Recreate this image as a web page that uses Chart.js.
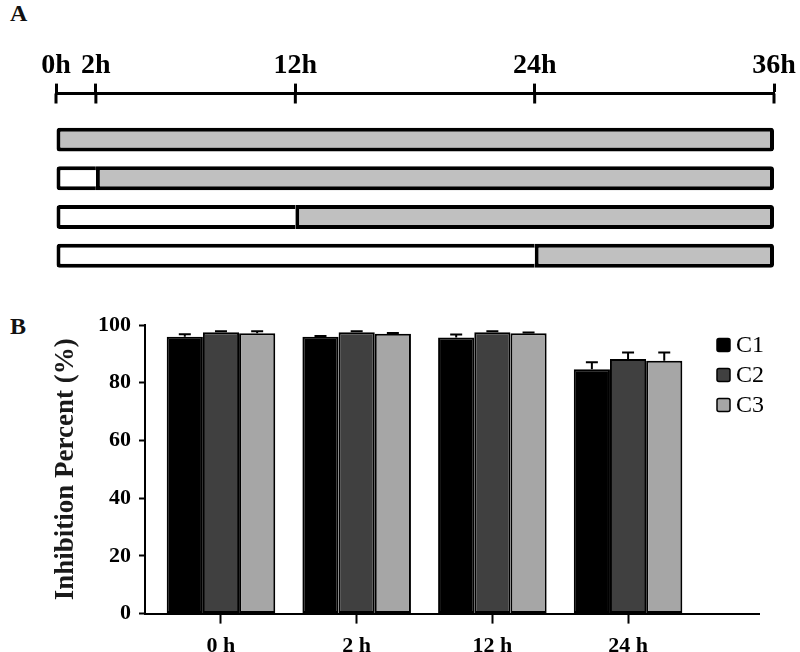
<!DOCTYPE html>
<html>
<head>
<meta charset="utf-8">
<script src="https://cdn.jsdelivr.net/npm/chart.js@4.4.1/dist/chart.umd.min.js"></script>
<style>
  html, body { margin: 0; padding: 0; background: #fff; overflow: hidden; }
  body { width: 800px; height: 652px; position: relative; }
  .panel-label {
    position: absolute;
    left: 10px;
    font: bold 24px "Liberation Serif", "Times New Roman", serif;
    line-height: 1;
    color: #111;
  }
  #timelineChart { position: absolute; left: 0; top: 0; }
  #inhibitionChart { position: absolute; left: 0; top: 290px; }
</style>
</head>
<body>
<div class="panel-label" style="top:1px">A</div>
<div class="panel-label" style="top:314px">B</div>
<canvas id="timelineChart" width="800" height="290"></canvas>
<canvas id="inhibitionChart" width="800" height="380"></canvas>
<script>
// panel A: treatment timeline
const timePoints = [0, 2, 12, 24, 36];
const timeLabels = ["0h", "2h", "12h", "24h", "36h"];
const rowStarts = [0, 2, 12, 24]; // hour at which each row switches to grey
const endHour = 36;

// panel B: inhibition percent
const categories = ["0 h", "2 h", "12 h", "24 h"];
const c1Values = [95.9, 95.9, 95.7, 84.7];
const c1Errors = [0.9, 0.3, 1.0, 2.4];
const c2Values = [97.5, 97.5, 97.5, 88.2];
const c2Errors = [0.3, 0.3, 0.3, 2.3];
const c3Values = [97.1, 97.0, 97.1, 87.6];
const c3Errors = [0.7, 0.2, 0.3, 2.9];

const serif = '"Liberation Serif", "Times New Roman", serif';
Chart.defaults.font.family = serif;

const beforeData = rowStarts
  .map((s, i) => (s > 0 ? { x: [0, s], y: i } : null))
  .filter(Boolean);
const afterData = rowStarts.map((s, i) => ({ x: [s, endHour], y: i }));

// tick marks under the timeline line (chart.js only draws the upper half)
const lowerTicks = {
  id: "lowerTicks",
  afterDraw(chart) {
    const ctx = chart.ctx;
    const sx = chart.scales.x;
    const top = chart.chartArea.top;
    ctx.save();
    ctx.strokeStyle = "#000";
    ctx.lineWidth = 3;
    ctx.beginPath();
    for (const v of timePoints) {
      const px = sx.getPixelForValue(v);
      ctx.moveTo(px, top);
      ctx.lineTo(px, top + 10);
    }
    ctx.stroke();
    ctx.restore();
  },
};

new Chart(document.getElementById("timelineChart"), {
  type: "bar",
  data: {
    datasets: [
      {
        label: "before",
        data: beforeData,
        backgroundColor: "#ffffff",
        borderColor: "#000000",
        borderWidth: 4,
        borderSkipped: "right",
        borderRadius: { topLeft: 3, bottomLeft: 3, topRight: 0, bottomRight: 0 },
      },
      {
        label: "after",
        data: afterData,
        backgroundColor: "#c0c0c0",
        borderColor: "#000000",
        borderWidth: 4,
        borderSkipped: false,
        borderRadius: (ctx) =>
          rowStarts[ctx.dataIndex] > 0
            ? { topLeft: 0, bottomLeft: 0, topRight: 3, bottomRight: 3 }
            : 3,
      },
    ],
  },
  options: {
    indexAxis: "y",
    responsive: false,
    animation: false,
    layout: { padding: { left: 56, right: 26, top: 48, bottom: 15 } },
    plugins: { legend: { display: false }, tooltip: { enabled: false } },
    datasets: { bar: { grouped: false, categoryPercentage: 0.62, barPercentage: 1 } },
    scales: {
      x: {
        type: "linear",
        position: "top",
        min: 0,
        max: endHour,
        offset: false,
        afterBuildTicks: (s) => {
          s.ticks = timePoints.map((v) => ({ value: v }));
        },
        ticks: {
          callback: (v, i) => timeLabels[i],
          font: { size: 28, weight: "bold" },
          color: "#000",
          padding: 1,
          autoSkip: false,
          maxRotation: 0,
        },
        grid: { drawOnChartArea: false, offset: false, tickLength: 10, tickWidth: 3, tickColor: "#000" },
        border: { color: "#000", width: 3 },
      },
      y: {
        type: "linear",
        reverse: true,
        min: -1.19,
        max: 3.5,
        offset: false,
        display: false,
        afterBuildTicks: (s) => {
          s.ticks = rowStarts.map((_, i) => ({ value: i }));
        },
      },
    },
  },
  plugins: [lowerTicks],
});

const errorBars = {
  id: "errorBars",
  afterDatasetsDraw(chart) {
    const ctx = chart.ctx;
    const sy = chart.scales.y;
    ctx.save();
    ctx.strokeStyle = "#000";
    ctx.lineWidth = 2;
    chart.data.datasets.forEach((ds, di) => {
      chart.getDatasetMeta(di).data.forEach((bar, i) => {
        const top = sy.getPixelForValue(ds.data[i].y + ds.errors[i]);
        ctx.beginPath();
        ctx.moveTo(bar.x, bar.y);
        ctx.lineTo(bar.x, top);
        ctx.moveTo(bar.x - 6, top);
        ctx.lineTo(bar.x + 6, top);
        ctx.stroke();
      });
    });
    ctx.restore();
  },
};

const sideLegend = {
  id: "sideLegend",
  afterDraw(chart) {
    const ctx = chart.ctx;
    const area = chart.chartArea;
    const x0 = area.right - 42;
    ctx.save();
    chart.data.datasets.forEach((ds, i) => {
      const cy = area.top + 20 + i * 30;
      ctx.fillStyle = ds.backgroundColor;
      ctx.strokeStyle = "#000";
      ctx.lineWidth = 1.5;
      ctx.beginPath();
      ctx.roundRect(x0, cy - 6.5, 13, 13, 2);
      ctx.fill();
      ctx.stroke();
      ctx.fillStyle = "#000";
      ctx.font = "24px " + serif;
      ctx.textAlign = "left";
      ctx.textBaseline = "middle";
      ctx.fillText(ds.label, x0 + 19, cy + 1);
    });
    ctx.restore();
  },
};

const toPoints = (vals) => vals.map((v, i) => ({ x: i, y: v }));

new Chart(document.getElementById("inhibitionChart"), {
  type: "bar",
  data: {
    datasets: [
      { label: "C1", data: toPoints(c1Values), errors: c1Errors, backgroundColor: "#000000" },
      { label: "C2", data: toPoints(c2Values), errors: c2Errors, backgroundColor: "#404040" },
      { label: "C3", data: toPoints(c3Values), errors: c3Errors, backgroundColor: "#a6a6a6" },
    ],
  },
  options: {
    responsive: false,
    animation: false,
    layout: { padding: { left: 0, right: 41, top: 35, bottom: 0 } },
    plugins: { legend: { display: false }, tooltip: { enabled: false } },
    datasets: {
      bar: {
        categoryPercentage: 0.8,
        barPercentage: 1,
        borderColor: "#000",
        borderWidth: 2,
        borderSkipped: false,
      },
    },
    scales: {
      x: {
        type: "linear",
        min: -0.56,
        max: 3.965,
        offset: false,
        afterBuildTicks: (s) => {
          s.ticks = categories.map((_, i) => ({ value: i }));
        },
        ticks: {
          callback: (v, i) => categories[i],
          font: { size: 22, weight: "bold" },
          color: "#000",
          padding: 10,
          autoSkip: false,
          maxRotation: 0,
        },
        grid: { drawOnChartArea: false, offset: false, tickLength: 10, tickWidth: 2, tickColor: "#000" },
        border: { color: "#000", width: 2 },
      },
      y: {
        min: 0,
        max: 100,
        ticks: {
          stepSize: 20,
          font: { size: 22, weight: "bold" },
          color: "#000",
          padding: 8,
        },
        grid: { drawOnChartArea: false, tickLength: 6, tickWidth: 2, tickColor: "#000" },
        border: { color: "#000", width: 2 },
        title: {
          display: true,
          text: "Inhibition Percent (%)",
          font: { size: 27, weight: "bold" },
          color: "#1a1a1a",
          padding: { top: 50, bottom: 0 },
        },
        afterFit: (scale) => {
          scale.width = 145;
        },
      },
    },
  },
  plugins: [errorBars, sideLegend],
});
</script>
</body>
</html>
